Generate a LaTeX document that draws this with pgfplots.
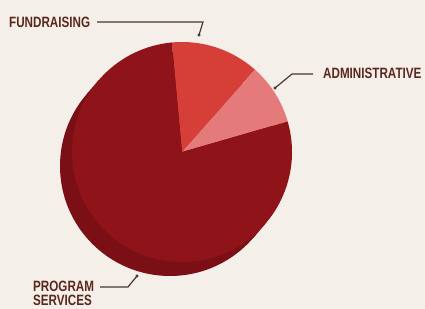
\documentclass[border=0pt]{standalone}
\usepackage{pgfplots}
\usepackage{pgfplotstable}
\usepackage{fontspec}
\usetikzlibrary{calc}
\pgfplotsset{compat=1.18}
\newfontfamily\lab[FakeStretch=0.78]{Liberation Sans}
\definecolor{bg}{RGB}{244,239,232}
\definecolor{prog}{RGB}{142,20,26}
\definecolor{side}{RGB}{122,15,21}
\definecolor{fund}{RGB}{214,62,56}
\definecolor{admin}{RGB}{228,122,122}
\definecolor{txt}{RGB}{92,40,30}
\definecolor{lead}{RGB}{70,55,50}

\pgfplotstableread{
label value
Fundraising 13
Administrative 9
Program 78
}\piedata

\begin{document}
\begin{tikzpicture}
\useasboundingbox (0,0) rectangle (425bp,309bp);
\fill[bg] (0,0) rectangle (425bp,309bp);
% angles from data
\pgfplotstablegetelem{0}{value}\of\piedata \let\vA\pgfplotsretval
\pgfplotstablegetelem{1}{value}\of\piedata \let\vB\pgfplotsretval
\pgfplotstablegetelem{2}{value}\of\piedata \let\vC\pgfplotsretval
\pgfmathsetmacro\aS{95.3}
\pgfmathsetmacro\aA{\aS-3.6*\vA}
\pgfmathsetmacro\aB{\aA-3.6*\vB}
\pgfmathsetmacro\aC{\aB-3.6*\vC}
\begin{axis}[at={(0,0)}, anchor=south west, scale only axis,
  width=425bp, height=309bp, xmin=0, xmax=425, ymin=0, ymax=309,
  hide axis, clip=false]
% side (depth)
\fill[side] (axis cs:170,143) circle[radius=110bp];
\fill[side] ($(axis cs:182,157)+(139:110bp)$) -- ($(axis cs:170,143)+(139:110bp)$) -- ($(axis cs:170,143)+(319:110bp)$) -- ($(axis cs:182,157)+(319:110bp)$) -- cycle;
% front face slices
\fill[fund] (axis cs:182,157) -- ++(\aS:110bp) arc[start angle=\aS, end angle=\aA, radius=110bp] -- cycle;
\fill[admin] (axis cs:182,157) -- ++(\aA:110bp) arc[start angle=\aA, end angle=\aB, radius=110bp] -- cycle;
\fill[prog] (axis cs:182,157) -- ++(\aB:110bp) arc[start angle=\aB, end angle=\aC, radius=110bp] -- cycle;
% leader lines
\addplot[lead, line width=1.2bp, no marks] coordinates {(97,287) (203,287) (199,274)};
\addplot[lead, line width=1.2bp, no marks] coordinates {(313,235) (292,235) (275,221)};
\addplot[lead, line width=1.2bp, no marks] coordinates {(100,22) (128,22) (137,33)};
\addplot[lead, only marks, mark=*, mark size=1.3bp] coordinates {(199,274) (275,221) (137,33)};
% labels
\node[anchor=base west, inner sep=0, text=txt, font=\lab\bfseries\fontsize{15}{17}\selectfont] at (axis cs:9,281) {FUNDRAISING};
\node[anchor=base west, inner sep=0, text=txt, font=\lab\bfseries\fontsize{15}{17}\selectfont] at (axis cs:323,230) {ADMINISTRATIVE};
\node[anchor=base west, inner sep=0, text=txt, font=\lab\bfseries\fontsize{15}{17}\selectfont] at (axis cs:33,18) {PROGRAM};
\node[anchor=base west, inner sep=0, text=txt, font=\lab\bfseries\fontsize{15}{17}\selectfont] at (axis cs:33,4) {SERVICES};
\end{axis}
\end{tikzpicture}
\end{document}
